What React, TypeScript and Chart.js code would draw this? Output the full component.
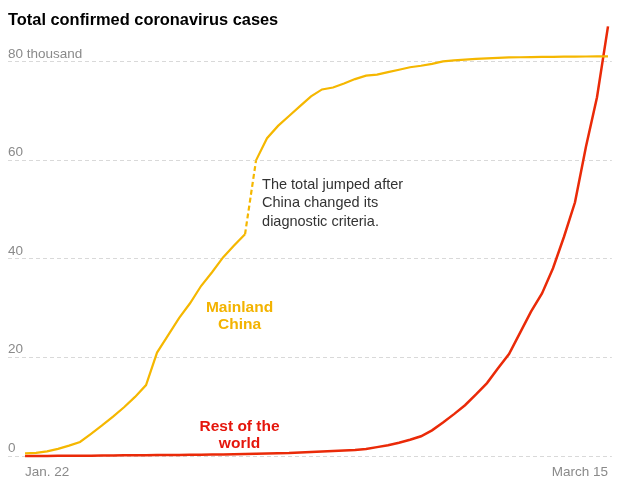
import React, { useEffect, useRef } from "react";
import { Chart, registerables } from "chart.js";

Chart.register(...registerables);

// Day labels (x categories), Jan. 22 to March 15
const dates = [
  "Jan. 22", "Jan. 23", "Jan. 24", "Jan. 25", "Jan. 26", "Jan. 27", "Jan. 28", "Jan. 29", "Jan. 30", "Jan. 31",
  "Feb. 1", "Feb. 2", "Feb. 3", "Feb. 4", "Feb. 5", "Feb. 6", "Feb. 7", "Feb. 8", "Feb. 9", "Feb. 10",
  "Feb. 11", "Feb. 12", "Feb. 13", "Feb. 14", "Feb. 15", "Feb. 16", "Feb. 17", "Feb. 18", "Feb. 19", "Feb. 20",
  "Feb. 21", "Feb. 22", "Feb. 23", "Feb. 24", "Feb. 25", "Feb. 26", "Feb. 27", "Feb. 28", "Feb. 29",
  "March 1", "March 2", "March 3", "March 4", "March 5", "March 6", "March 7", "March 8", "March 9", "March 10",
  "March 11", "March 12", "March 13", "March 14", "March 15",
];

// Total confirmed cases, thousands
const chinaCases = [
  0.55, 0.65, 0.95, 1.45, 2.1, 2.85, 4.5, 6.2, 8.0, 9.9,
  12.0, 14.4, 21.0, 24.5, 28.0, 31.0, 34.5, 37.3, 40.3, 42.7,
  45.0, 60.0, 64.5, 67.0, 69.0, 71.0, 73.0, 74.4, 74.8, 75.6,
  76.5, 77.2, 77.4, 77.9, 78.4, 78.9, 79.2, 79.6, 80.1,
  80.3, 80.45, 80.6, 80.7, 80.8, 80.9, 80.93, 80.96, 81.0, 81.02,
  81.04, 81.06, 81.08, 81.09, 81.1,
];

const restOfWorldCases = [
  0.01, 0.01, 0.02, 0.03, 0.04, 0.06, 0.07, 0.08, 0.1, 0.13,
  0.15, 0.16, 0.18, 0.2, 0.22, 0.25, 0.27, 0.3, 0.32, 0.35,
  0.4, 0.45, 0.5, 0.55, 0.6, 0.7, 0.8, 0.9, 1.0, 1.1,
  1.2, 1.4, 1.8, 2.2, 2.7, 3.3, 4.0, 5.2, 6.8,
  8.5, 10.3, 12.5, 14.8, 17.8, 20.7, 25.0, 29.3, 33.0, 38.1,
  44.5, 51.5, 62.8, 72.8, 87.2,
];

const yTicks = [0, 20, 40, 60, 80];
const xTickIndexes = [0, 53];
const jumpIndex = 20; // segment after this point is dashed

const YELLOW = "#f5b700";
const RED = "#ea2a08";
const FONT = "'Liberation Sans', Arial, sans-serif";

const notes = [
  { lines: ["Mainland", "China"], x: 19.5, y: 30.0, color: "#f3b300", weight: "bold", size: 15.5, align: "center", lh: 17 },
  { lines: ["Rest of the", "world"], x: 19.5, y: 5.9, color: "#e5160c", weight: "bold", size: 15.5, align: "center", lh: 16.5 },
  { lines: ["The total jumped after", "China changed its", "diagnostic criteria."], x: 21.55, y: 55.1, color: "#333333", weight: "normal", size: 14.5, align: "left", lh: 18.5 },
];

const notesPlugin = {
  id: "notes",
  afterDatasetsDraw(chart: any) {
    const { ctx, scales } = chart;
    const xs = scales.x;
    const ys = scales.y;
    ctx.save();
    for (const n of notes) {
      ctx.font = `${n.weight} ${n.size}px ${FONT}`;
      ctx.fillStyle = n.color;
      ctx.textAlign = n.align;
      ctx.textBaseline = "middle";
      const px = xs.getPixelForValue(n.x);
      const py = ys.getPixelForValue(n.y);
      n.lines.forEach((line, i) => ctx.fillText(line, px, py + i * n.lh));
    }
    ctx.restore();
  },
};

export default function App() {
  const ref = useRef<HTMLCanvasElement | null>(null);

  useEffect(() => {
    if (!ref.current) return;
    const chart = new Chart(ref.current, {
      type: "line",
      data: {
        datasets: [
          {
            label: "Mainland China",
            data: chinaCases.map((v, i) => ({ x: i, y: v })),
            borderColor: YELLOW,
            borderWidth: 2.2,
            pointRadius: 0,
            tension: 0,
            clip: false,
            segment: {
              borderDash: (c: any) => (c.p0DataIndex === jumpIndex ? [5, 3] : undefined),
            },
          },
          {
            label: "Rest of the world",
            data: restOfWorldCases.map((v, i) => ({ x: i, y: v })),
            borderColor: RED,
            borderWidth: 2.5,
            pointRadius: 0,
            tension: 0,
            clip: false,
          },
        ],
      },
      options: {
        animation: false,
        responsive: true,
        maintainAspectRatio: false,
        layout: { padding: { left: 0, right: 0, top: 0, bottom: 0.8 } },
        plugins: {
          legend: { display: false },
          tooltip: { enabled: false },
          title: {
            display: true,
            text: "Total confirmed coronavirus cases",
            align: "start",
            color: "#000",
            font: { family: FONT, size: 16.4, weight: "bold" },
            padding: { top: 2.6, bottom: 2.0 },
          },
        },
        scales: {
          x: {
            type: "linear",
            min: -1.55,
            max: 53.35,
            grid: { display: false, drawTicks: false },
            border: { display: false },
            afterBuildTicks: (s: any) => {
              s.ticks = xTickIndexes.map((v) => ({ value: v }));
            },
            ticks: {
              align: "inner",
              maxRotation: 0,
              autoSkip: false,
              padding: 8,
              color: "#8a8a8a",
              font: { family: FONT, size: 13.5 },
              callback: (v: any) => dates[v],
            },
          },
          y: {
            min: 0,
            max: 86,
            border: { display: false, dash: [4, 3] },
            grid: {
              color: "#d9d9d9",
              lineWidth: 1,
              drawTicks: false,
            },
            afterBuildTicks: (s: any) => {
              s.ticks = yTicks.map((v) => ({ value: v }));
            },
            ticks: {
              mirror: true,
              padding: 0,
              labelOffset: -8,
              color: "#8a8a8a",
              font: { family: FONT, size: 13.5 },
              callback: (v: any) => (v === 80 ? "80 thousand" : String(v)),
            },
          },
        },
      } as any,
      plugins: [notesPlugin],
    });
    return () => chart.destroy();
  }, []);

  return (
    <div style={{ width: "100%", height: 481, marginBottom: -8, position: "relative" }}>
      <canvas ref={ref} />
    </div>
  );
}
